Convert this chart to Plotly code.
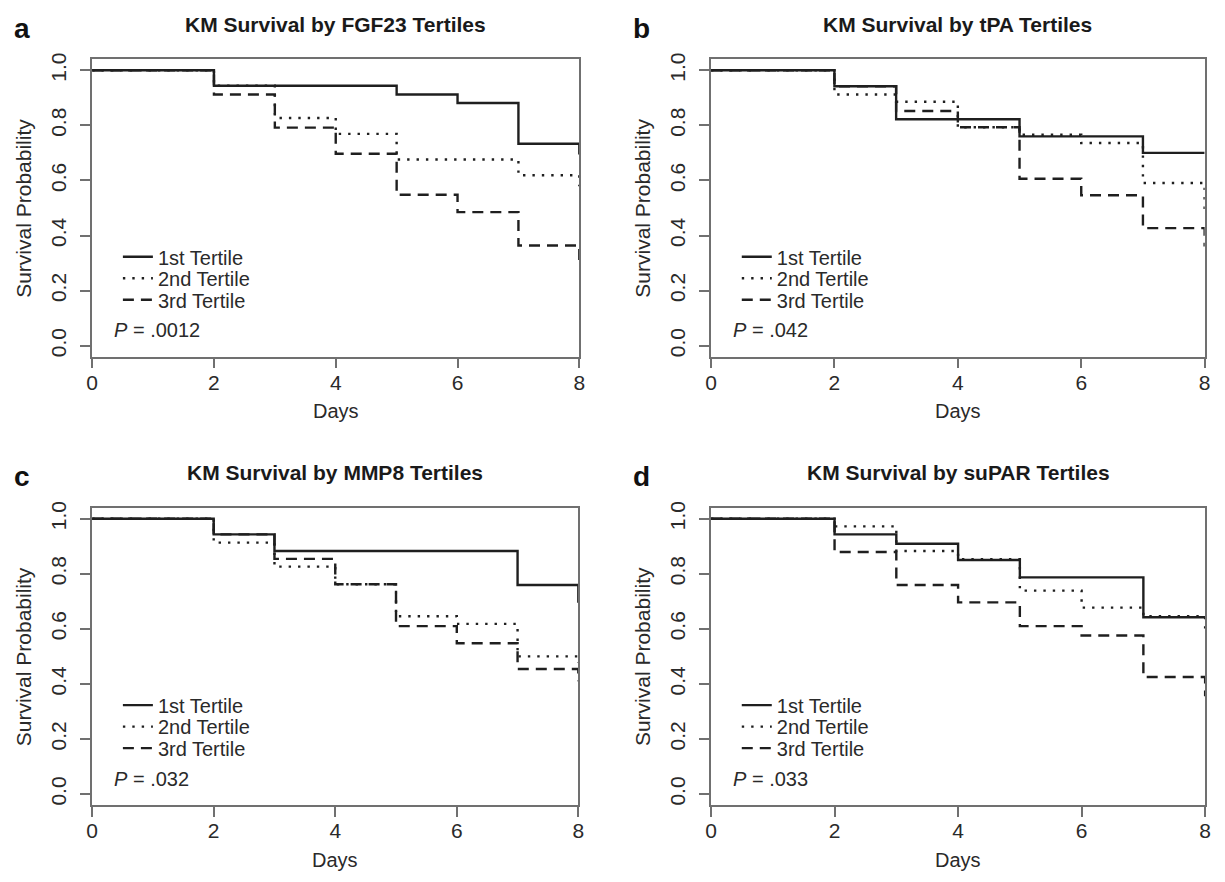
import plotly.graph_objects as go

# ---------------- data ----------------
days = [0, 2, 3, 4, 5, 6, 7, 8]
tertile_names = ["1st Tertile", "2nd Tertile", "3rd Tertile"]

fgf23_t1 = [1.0, 0.944, 0.944, 0.944, 0.912, 0.881, 0.733, 0.694]
fgf23_t2 = [1.0, 0.944, 0.827, 0.769, 0.676, 0.676, 0.619, 0.579]
fgf23_t3 = [1.0, 0.912, 0.792, 0.697, 0.548, 0.485, 0.364, 0.288]

tpa_t1 = [1.0, 0.942, 0.822, 0.822, 0.760, 0.760, 0.700, 0.700]
tpa_t2 = [1.0, 0.912, 0.886, 0.793, 0.766, 0.736, 0.591, 0.487]
tpa_t3 = [1.0, 0.942, 0.852, 0.793, 0.606, 0.546, 0.427, 0.360]

mmp8_t1 = [1.0, 0.943, 0.883, 0.883, 0.883, 0.883, 0.759, 0.695]
mmp8_t2 = [1.0, 0.913, 0.826, 0.762, 0.646, 0.618, 0.500, 0.477]
mmp8_t3 = [1.0, 0.943, 0.854, 0.762, 0.610, 0.548, 0.454, 0.410]

supar_t1 = [1.0, 0.943, 0.909, 0.850, 0.787, 0.787, 0.642, 0.642]
supar_t2 = [1.0, 0.972, 0.883, 0.853, 0.739, 0.677, 0.646, 0.585]
supar_t3 = [1.0, 0.879, 0.759, 0.696, 0.610, 0.576, 0.425, 0.355]

panel_letters = ["a", "b", "c", "d"]
panel_titles = ["KM Survival by FGF23 Tertiles", "KM Survival by tPA Tertiles",
                "KM Survival by MMP8 Tertiles", "KM Survival by suPAR Tertiles"]
p_labels = ["<i>P</i> = .0012", "<i>P</i> = .042", "<i>P</i> = .032", "<i>P</i> = .033"]
panel_series = [
    [fgf23_t1, fgf23_t2, fgf23_t3],
    [tpa_t1, tpa_t2, tpa_t3],
    [mmp8_t1, mmp8_t2, mmp8_t3],
    [supar_t1, supar_t2, supar_t3],
]
x_ticks = [0, 2, 4, 6, 8]
y_ticks = [0.0, 0.2, 0.4, 0.6, 0.8, 1.0]
y_ticktext = ["0.0", "0.2", "0.4", "0.6", "0.8", "1.0"]

# ---------------- layout geometry (pixels) ----------------
W, H = 1225, 882
# left, right, top, bottom of each plotting box
boxes = [
    (87, 579, 52.7, 352.5),
    (712, 1210.5, 52.7, 352.5),
    (87, 578, 504.7, 804.5),
    (712, 1211, 504.7, 804.5),
]
Y_LO, Y_HI = -0.04, 1.04


def px(x):
    return x / W


def py(y):
    return 1 - y / H


def ypix(box, v):
    top, bot = box[2], box[3]
    return bot - (v - Y_LO) / (Y_HI - Y_LO) * (bot - top)


FONT = "Liberation Sans, Arial, sans-serif"
CURVE = "#1f1f1f"
AXIS = "#707070"
TEXT = "#2a2a2a"
styles = [
    dict(color=CURVE, width=2.4, dash="solid"),
    dict(color=CURVE, width=2.4, dash="2.4px,7px"),
    dict(color=CURVE, width=2.4, dash="11px,7px"),
]

fig = go.Figure()
layout = dict(
    width=W, height=H,
    margin=dict(l=0, r=0, t=0, b=0),
    paper_bgcolor="white", plot_bgcolor="white",
    font=dict(family=FONT, color=TEXT),
    annotations=[],
)

leg_n = 0
for i, box in enumerate(boxes):
    L, R, T, B = box
    sfx = "" if i == 0 else str(i + 1)
    xa, ya = "x" + sfx, "y" + sfx
    layout["xaxis" + sfx] = dict(
        domain=[px(L), px(R)], anchor=ya, range=[0, 8],
        tickvals=x_ticks, ticks="outside", ticklen=10, tickwidth=1.5, tickcolor=AXIS,
        showline=True, mirror=True, linecolor=AXIS, linewidth=1.5,
        showgrid=False, zeroline=False,
        tickfont=dict(size=21, color=TEXT, family=FONT), ticklabelstandoff=-4,
        fixedrange=True,
    )
    layout["yaxis" + sfx] = dict(
        domain=[py(B), py(T)], anchor=xa, range=[Y_LO, Y_HI],
        tickvals=y_ticks, ticktext=y_ticktext, tickangle=-90,
        ticks="outside", ticklen=10, tickwidth=1.5, tickcolor=AXIS,
        showline=True, mirror=True, linecolor=AXIS, linewidth=1.5,
        showgrid=False, zeroline=False,
        tickfont=dict(size=21, color=TEXT, family=FONT), ticklabelstandoff=6,
        fixedrange=True,
    )
    for k, (vals, name) in enumerate(zip(panel_series[i], tertile_names)):
        leg_n += 1
        lid = "legend" if leg_n == 1 else "legend" + str(leg_n)
        fig.add_trace(go.Scatter(
            x=days, y=vals, mode="lines", line_shape="hv", name=name,
            line=styles[k], xaxis=xa, yaxis=ya, legend=lid, showlegend=True,
        ))
        row_y = T + 199 + 21.7 * k
        layout[lid] = dict(
            x=px(L + 26), y=py(row_y), xanchor="left", yanchor="middle",
            bgcolor="rgba(0,0,0,0)", borderwidth=0,
            font=dict(size=20, color=TEXT, family=FONT),
            itemclick=False, itemdoubleclick=False,
        )
    cx = (L + R) / 2
    ann = layout["annotations"]
    # title
    ann.append(dict(text="<b>" + panel_titles[i] + "</b>", x=px(cx), y=py(T - 35),
                    xref="paper", yref="paper", xanchor="center", yanchor="middle",
                    showarrow=False, font=dict(size=21, color="#1a1a1a", family=FONT)))
    # panel letter
    ann.append(dict(text="<b>" + panel_letters[i] + "</b>", x=px(L - 81), y=py(T - 31),
                    xref="paper", yref="paper", xanchor="left", yanchor="middle",
                    showarrow=False, font=dict(size=28, color="#111111", family=FONT)))
    # axis titles
    ann.append(dict(text="Days", x=px(cx), y=py(B + 55), xref="paper", yref="paper",
                    xanchor="center", yanchor="middle", showarrow=False,
                    font=dict(size=20, color=TEXT, family=FONT)))
    ann.append(dict(text="Survival Probability", x=px(L - 69),
                    y=py((ypix(box, 0) + ypix(box, 1)) / 2), xref="paper", yref="paper",
                    xanchor="center", yanchor="middle", textangle=-90, showarrow=False,
                    font=dict(size=21, color=TEXT, family=FONT)))
    # p-value
    ann.append(dict(text=p_labels[i], x=px(L + 20), y=py(T + 273), xref="paper", yref="paper",
                    xanchor="left", yanchor="middle", showarrow=False,
                    font=dict(size=20, color=TEXT, family=FONT)))

fig.update_layout(**layout)
fig.write_html("out.html")
